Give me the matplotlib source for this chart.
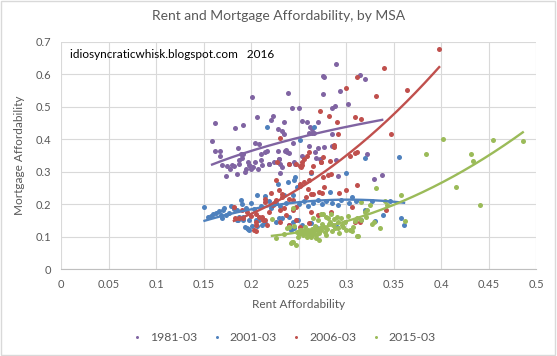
import numpy as np
import matplotlib
matplotlib.use("Agg")
import matplotlib.pyplot as plt

plt.rcParams['font.family'] = ['Lato', 'DejaVu Sans']

# rent affordability (x) / mortgage affordability (y) by MSA
x_1981 = [0.159, 0.162, 0.162, 0.167, 0.167, 0.169, 0.174, 0.175, 0.178, 0.180,
          0.182, 0.183, 0.185, 0.186, 0.187, 0.187, 0.189, 0.190, 0.192, 0.192,
          0.194, 0.195, 0.197, 0.198, 0.199, 0.200, 0.201, 0.202, 0.204, 0.204,
          0.206, 0.207, 0.208, 0.210, 0.211, 0.212, 0.215, 0.217, 0.219, 0.219,
          0.221, 0.223, 0.224, 0.228, 0.228, 0.229, 0.229, 0.230, 0.231, 0.233,
          0.233, 0.235, 0.235, 0.236, 0.237, 0.238, 0.239, 0.240, 0.240, 0.243,
          0.244, 0.245, 0.246, 0.250, 0.254, 0.254, 0.259, 0.261, 0.261, 0.262,
          0.264, 0.264, 0.266, 0.267, 0.268, 0.270, 0.270, 0.273, 0.276, 0.276,
          0.277, 0.277, 0.285, 0.285, 0.285, 0.288, 0.289, 0.289, 0.291, 0.294,
          0.302, 0.315, 0.320, 0.322, 0.329, 0.338]
y_1981 = [0.395, 0.450, 0.363, 0.365, 0.350, 0.320, 0.286, 0.319, 0.309, 0.322,
          0.319, 0.434, 0.294, 0.375, 0.336, 0.325, 0.355, 0.344, 0.443, 0.355,
          0.299, 0.309, 0.330, 0.322, 0.319, 0.310, 0.530, 0.316, 0.389, 0.331,
          0.470, 0.309, 0.387, 0.336, 0.355, 0.322, 0.360, 0.363, 0.325, 0.324,
          0.461, 0.472, 0.330, 0.433, 0.365, 0.341, 0.340, 0.325, 0.296, 0.426,
          0.316, 0.452, 0.418, 0.365, 0.367, 0.360, 0.542, 0.359, 0.324, 0.498,
          0.388, 0.330, 0.324, 0.498, 0.456, 0.350, 0.453, 0.421, 0.380, 0.438,
          0.431, 0.420, 0.421, 0.361, 0.344, 0.453, 0.373, 0.340, 0.594, 0.539,
          0.592, 0.377, 0.498, 0.416, 0.379, 0.502, 0.631, 0.337, 0.286, 0.548,
          0.508, 0.599, 0.586, 0.355, 0.279, 0.292]

x_2001 = [0.151, 0.155, 0.158, 0.160, 0.163, 0.166, 0.168, 0.169, 0.171, 0.172,
          0.174, 0.177, 0.179, 0.182, 0.185, 0.185, 0.186, 0.187, 0.189, 0.190,
          0.192, 0.192, 0.194, 0.195, 0.196, 0.197, 0.198, 0.198, 0.200, 0.201,
          0.203, 0.205, 0.206, 0.206, 0.208, 0.210, 0.212, 0.215, 0.215, 0.217,
          0.219, 0.221, 0.224, 0.226, 0.226, 0.228, 0.229, 0.231, 0.233, 0.235,
          0.237, 0.239, 0.240, 0.240, 0.242, 0.244, 0.244, 0.245, 0.245, 0.246,
          0.248, 0.249, 0.250, 0.252, 0.254, 0.256, 0.260, 0.263, 0.263, 0.265,
          0.266, 0.268, 0.270, 0.275, 0.279, 0.283, 0.285, 0.290, 0.291, 0.295,
          0.300, 0.303, 0.306, 0.310, 0.316, 0.320, 0.320, 0.327, 0.330, 0.339,
          0.346, 0.356, 0.358, 0.361]
y_2001 = [0.191, 0.160, 0.165, 0.170, 0.175, 0.180, 0.168, 0.157, 0.184, 0.190,
          0.167, 0.174, 0.195, 0.185, 0.182, 0.152, 0.152, 0.162, 0.213, 0.200,
          0.152, 0.162, 0.130, 0.190, 0.127, 0.126, 0.122, 0.152, 0.205, 0.134,
          0.185, 0.152, 0.230, 0.134, 0.152, 0.195, 0.137, 0.225, 0.144, 0.438,
          0.210, 0.190, 0.200, 0.203, 0.147, 0.262, 0.157, 0.195, 0.157, 0.228,
          0.205, 0.268, 0.137, 0.162, 0.122, 0.228, 0.147, 0.276, 0.129, 0.284,
          0.255, 0.152, 0.200, 0.398, 0.137, 0.210, 0.195, 0.296, 0.142, 0.205,
          0.438, 0.132, 0.215, 0.200, 0.210, 0.238, 0.205, 0.132, 0.198, 0.215,
          0.296, 0.205, 0.223, 0.210, 0.152, 0.343, 0.182, 0.210, 0.150, 0.167,
          0.210, 0.346, 0.157, 0.137]

x_2006 = [0.182, 0.183, 0.187, 0.190, 0.192, 0.196, 0.200, 0.203, 0.205, 0.205,
          0.205, 0.205, 0.208, 0.212, 0.213, 0.215, 0.215, 0.215, 0.217, 0.219,
          0.221, 0.223, 0.224, 0.226, 0.226, 0.227, 0.229, 0.230, 0.231, 0.231,
          0.233, 0.233, 0.235, 0.237, 0.240, 0.240, 0.240, 0.244, 0.244, 0.247,
          0.247, 0.247, 0.251, 0.251, 0.252, 0.252, 0.253, 0.254, 0.254, 0.256,
          0.256, 0.258, 0.259, 0.260, 0.261, 0.261, 0.261, 0.263, 0.263, 0.263,
          0.265, 0.265, 0.270, 0.272, 0.273, 0.274, 0.274, 0.275, 0.276, 0.276,
          0.277, 0.281, 0.282, 0.283, 0.284, 0.284, 0.287, 0.287, 0.290, 0.292,
          0.293, 0.300, 0.300, 0.304, 0.306, 0.309, 0.309, 0.309, 0.311, 0.312,
          0.312, 0.315, 0.316, 0.331, 0.340, 0.342, 0.347, 0.364, 0.398]
y_2006 = [0.193, 0.157, 0.157, 0.182, 0.157, 0.177, 0.165, 0.122, 0.172, 0.147,
          0.137, 0.119, 0.160, 0.162, 0.152, 0.218, 0.208, 0.152, 0.137, 0.177,
          0.235, 0.198, 0.203, 0.274, 0.213, 0.329, 0.243, 0.182, 0.403, 0.147,
          0.233, 0.223, 0.190, 0.167, 0.324, 0.218, 0.137, 0.213, 0.182, 0.324,
          0.193, 0.152, 0.263, 0.132, 0.258, 0.319, 0.314, 0.329, 0.322, 0.339,
          0.268, 0.223, 0.349, 0.248, 0.362, 0.274, 0.142, 0.299, 0.233, 0.177,
          0.319, 0.233, 0.167, 0.238, 0.488, 0.330, 0.329, 0.235, 0.345, 0.284,
          0.253, 0.289, 0.472, 0.334, 0.294, 0.177, 0.382, 0.376, 0.453, 0.417,
          0.235, 0.557, 0.245, 0.350, 0.193, 0.468, 0.357, 0.147, 0.360, 0.592,
          0.261, 0.147, 0.462, 0.533, 0.619, 0.182, 0.416, 0.551, 0.678]

x_2015 = [0.222, 0.226, 0.235, 0.238, 0.240, 0.240, 0.242, 0.243, 0.244, 0.244,
          0.245, 0.247, 0.248, 0.249, 0.250, 0.251, 0.253, 0.254, 0.255, 0.256,
          0.257, 0.258, 0.259, 0.260, 0.261, 0.262, 0.263, 0.264, 0.265, 0.265,
          0.266, 0.267, 0.268, 0.268, 0.269, 0.270, 0.271, 0.272, 0.273, 0.274,
          0.274, 0.275, 0.276, 0.277, 0.278, 0.279, 0.279, 0.280, 0.281, 0.282,
          0.283, 0.284, 0.285, 0.286, 0.287, 0.288, 0.290, 0.291, 0.292, 0.293,
          0.295, 0.296, 0.297, 0.299, 0.300, 0.302, 0.304, 0.306, 0.307, 0.309,
          0.311, 0.311, 0.313, 0.316, 0.316, 0.320, 0.321, 0.322, 0.325, 0.327,
          0.329, 0.332, 0.336, 0.341, 0.343, 0.358, 0.362, 0.384, 0.402, 0.416,
          0.431, 0.434, 0.441, 0.455, 0.486]
y_2015 = [0.154, 0.096, 0.110, 0.127, 0.132, 0.130, 0.081, 0.083, 0.188, 0.086,
          0.134, 0.076, 0.115, 0.101, 0.108, 0.122, 0.120, 0.116, 0.105, 0.117,
          0.130, 0.112, 0.100, 0.122, 0.106, 0.115, 0.101, 0.125, 0.157, 0.110,
          0.118, 0.135, 0.106, 0.096, 0.120, 0.152, 0.112, 0.091, 0.128, 0.172,
          0.122, 0.140, 0.172, 0.132, 0.115, 0.162, 0.106, 0.125, 0.157, 0.140,
          0.147, 0.172, 0.118, 0.137, 0.155, 0.128, 0.162, 0.127, 0.145, 0.112,
          0.157, 0.138, 0.132, 0.147, 0.120, 0.165, 0.122, 0.117, 0.132, 0.150,
          0.157, 0.103, 0.103, 0.152, 0.208, 0.177, 0.162, 0.182, 0.198, 0.140,
          0.147, 0.251, 0.127, 0.211, 0.198, 0.230, 0.150, 0.355, 0.401, 0.254,
          0.355, 0.332, 0.198, 0.398, 0.396]

labels = ['1981-03', '2001-03', '2006-03', '2015-03']
colors = ['#8064A2', '#4F81BD', '#C0504D', '#9BBB59']
# trend type per series: 'log' or polynomial order
trends = ['log', 2, 2, 2]

series = [(x_1981, y_1981), (x_2001, y_2001), (x_2006, y_2006), (x_2015, y_2015)]

fig = plt.figure(figsize=(5.57, 3.56), dpi=100)
ax = fig.add_axes([0.1095, 0.243, 0.853, 0.6396])

gray = '#595959'
for (xs, ys), lab, col in zip(series, labels, colors):
    ax.scatter(xs, ys, s=13, color=col, label=lab, linewidths=0, zorder=3)

for (xs, ys), col, tr in zip(series, colors, trends):
    xs = np.array(xs)
    ys = np.array(ys)
    xx = np.linspace(xs.min(), xs.max(), 200)
    if tr == 'log':
        c = np.polyfit(np.log(xs), ys, 1)
        yy = np.polyval(c, np.log(xx))
    else:
        c = np.polyfit(xs, ys, tr)
        yy = np.polyval(c, xx)
    ax.plot(xx, yy, color=col, lw=1.7, zorder=4)

ax.set_xlim(0, 0.5)
ax.set_ylim(0, 0.7)
ax.set_xticks(np.arange(0, 0.501, 0.05))
ax.set_yticks(np.arange(0, 0.701, 0.1))
ax.set_xticklabels(['0', '0.05', '0.1', '0.15', '0.2', '0.25', '0.3', '0.35',
                    '0.4', '0.45', '0.5'])
ax.set_yticklabels(['0', '0.1', '0.2', '0.3', '0.4', '0.5', '0.6', '0.7'])
ax.grid(True, color='#d9d9d9', lw=0.8)
ax.set_axisbelow(True)
for s in ['top', 'right', 'left']:
    ax.spines[s].set_visible(False)
ax.spines['bottom'].set_color('#bfbfbf')
ax.tick_params(length=0, colors=gray, labelsize=8, pad=7)

ax.set_xlabel('Rent Affordability', color=gray, fontsize=8.5, labelpad=6)
ax.set_ylabel('Mortgage Affordability', color=gray, fontsize=8.5, labelpad=8)
fig.text(0.5, 0.955, 'Rent and Mortgage Affordability, by MSA', ha='center',
         va='center', color=gray, fontsize=10)
ax.text(0.02, 0.945, 'idiosyncraticwhisk.blogspot.com   2016', transform=ax.transAxes,
        fontsize=8.5, color='black', va='center')

leg = fig.legend(loc='center', bbox_to_anchor=(0.503, 0.053), ncol=4, frameon=False,
                 fontsize=8.8, handletextpad=0.05, columnspacing=0.6, markerscale=0.6)
for t in leg.get_texts():
    t.set_color(gray)

fig.patches.append(plt.Rectangle((0.002, 0.003), 0.995, 0.994, transform=fig.transFigure,
                                 fill=False, edgecolor='#d9d9d9', lw=1))
fig.savefig('out.png', dpi=100)
